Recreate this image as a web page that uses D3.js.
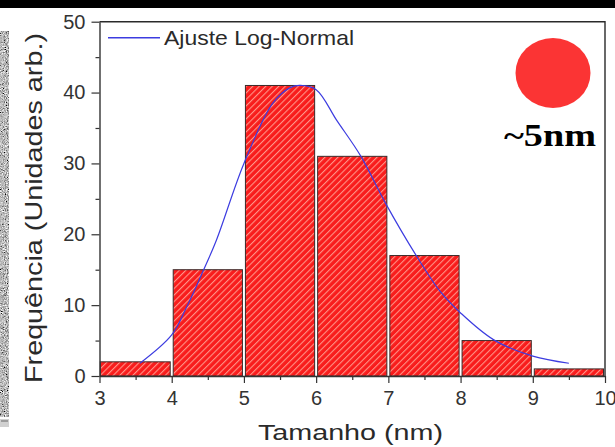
<!DOCTYPE html>
<html>
<head>
<meta charset="utf-8">
<script src="https://cdn.jsdelivr.net/npm/d3@7/dist/d3.min.js"></script>
<style>
  html, body { margin: 0; padding: 0; background: #fff; }
  svg { display: block; }
</style>
</head>
<body>
<svg id="chart" width="615" height="447"></svg>
<script>
// Histogram of particle sizes (nm) with a log-normal fit
const binStarts = [3, 4, 5, 6, 7, 8, 9];
const binWidth = 1;
const counts = [2, 15, 41, 31, 17, 5, 1];

// Log-normal fit curve, sampled points (size, frequency)
const fitX = [3.56, 4.0, 4.2, 4.43, 4.62, 5.0, 5.4, 5.64, 5.78, 6.0, 6.29, 6.62, 6.96, 7.38, 7.72, 8.0, 8.46, 9.0, 9.5];
const fitY = [1.8, 5.8, 9.6, 14.7, 19.2, 30.0, 38.5, 40.7, 41.0, 40.4, 36.0, 31.0, 24.4, 17.1, 11.9, 8.9, 5.1, 2.8, 1.8];

const xMajor = [3, 4, 5, 6, 7, 8, 9, 10];
const xMinor = [3.5, 4.5, 5.5, 6.5, 7.5, 8.5, 9.5];
const yMajor = [0, 10, 20, 30, 40, 50];
const yMinor = [5, 15, 25, 35, 45];

const svg = d3.select("#chart");
const plotLeft = 99.5, plotRight = 605, plotTop = 21.7, plotBottom = 376;

const x = d3.scaleLinear().domain([3, 10]).range([plotLeft, plotRight]);
const y = d3.scaleLinear().domain([0, 50]).range([plotBottom, plotTop]);

const defs = svg.append("defs");

// Diagonal hatch for the bars
const pat = defs.append("pattern")
  .attr("id", "hatch")
  .attr("patternUnits", "userSpaceOnUse")
  .attr("width", 4.6).attr("height", 4.6)
  .attr("patternTransform", "rotate(45)");
pat.append("rect").attr("width", 4.6).attr("height", 4.6).attr("fill", "#f81c1c");
pat.append("rect").attr("x", 0).attr("width", 1.1).attr("height", 4.6).attr("fill", "#ff9488");

// Grainy texture for the micrograph strip at the left edge
const grain = defs.append("filter").attr("id", "grain")
  .attr("x", 0).attr("y", 0).attr("width", 1).attr("height", 1);
grain.append("feTurbulence").attr("type", "fractalNoise")
  .attr("baseFrequency", 0.95).attr("numOctaves", 2).attr("seed", 3).attr("result", "n");
grain.append("feColorMatrix").attr("type", "matrix")
  .attr("values", "0.33 0.33 0.33 0 0  0.33 0.33 0.33 0 0  0.33 0.33 0.33 0 0  0 0 0 0 1")
  .attr("in", "n").attr("result", "g");
grain.append("feComponentTransfer").attr("in", "g")
  .call(s => {
    s.append("feFuncR").attr("type", "linear").attr("slope", 2.8).attr("intercept", -0.9);
    s.append("feFuncG").attr("type", "linear").attr("slope", 2.8).attr("intercept", -0.9);
    s.append("feFuncB").attr("type", "linear").attr("slope", 2.8).attr("intercept", -0.9);
  });

svg.append("rect").attr("width", 615).attr("height", 447).attr("fill", "#fff");

// Dark band across the top
svg.append("rect").attr("x", 0).attr("y", 0).attr("width", 615).attr("height", 8).attr("fill", "#000");

// Micrograph strip
svg.append("rect").attr("x", 0).attr("y", 31).attr("width", 9).attr("height", 386)
  .attr("fill", "#888").attr("filter", "url(#grain)");
svg.append("rect").attr("x", 0).attr("y", 419).attr("width", 9).attr("height", 8).attr("fill", "#d0d0d0");
svg.append("line").attr("x1", 1).attr("x2", 8).attr("y1", 421).attr("y2", 421).attr("stroke", "#666");

// Bars
svg.append("g").selectAll("rect")
  .data(binStarts.map((b, i) => ({ b, c: counts[i] })))
  .join("rect")
  .attr("x", d => x(d.b) + (d.b === 3 ? 0.8 : 1.5))
  .attr("width", d => x(d.b + binWidth) - x(d.b) - (d.b === 3 ? 2.3 : 3))
  .attr("y", d => y(d.c))
  .attr("height", d => y(0) - y(d.c))
  .attr("fill", "url(#hatch)")
  .attr("stroke", "#3a2b2b")
  .attr("stroke-width", 1);

// Fit curve
const line = d3.line()
  .x(d => x(d[0])).y(d => y(d[1]))
  .curve(d3.curveCatmullRom.alpha(0.5));
svg.append("path")
  .datum(fitX.map((v, i) => [v, fitY[i]]))
  .attr("d", line)
  .attr("fill", "none")
  .attr("stroke", "#3c3ce0")
  .attr("stroke-width", 1.2);

// Frame (top and right)
svg.append("path")
  .attr("d", `M${plotLeft},${plotTop}H${plotRight}V${plotBottom}`)
  .attr("fill", "none").attr("stroke", "#2a2a2a").attr("stroke-width", 1.4);

// Axes
const axisColor = "#333";
function styleAxis(g) {
  g.selectAll(".domain").attr("stroke", axisColor).attr("stroke-width", 1.4);
  g.selectAll(".tick line").attr("stroke", axisColor).attr("stroke-width", 1.2);
  g.selectAll(".tick text")
    .attr("fill", "#333")
    .style("font-family", "'Liberation Sans', Arial, sans-serif")
    .style("font-size", "20px");
}

svg.append("g").attr("transform", `translate(0,${plotBottom})`)
  .call(d3.axisBottom(x).tickValues(xMinor).tickSize(4).tickFormat("").tickSizeOuter(0))
  .call(g => g.select(".domain").remove())
  .call(styleAxis);
svg.append("g").attr("transform", `translate(0,${plotBottom})`)
  .call(d3.axisBottom(x).tickValues(xMajor).tickSize(7).tickPadding(8).tickSizeOuter(0).tickFormat(d3.format("d")))
  .call(styleAxis);

svg.append("g").attr("transform", `translate(${plotLeft},0)`)
  .call(d3.axisLeft(y).tickValues(yMinor).tickSize(4).tickFormat("").tickSizeOuter(0))
  .call(g => g.select(".domain").remove())
  .call(styleAxis);
svg.append("g").attr("transform", `translate(${plotLeft},0)`)
  .call(d3.axisLeft(y).tickValues(yMajor).tickSize(8).tickPadding(6).tickSizeOuter(0).tickFormat(d3.format("d")))
  .call(styleAxis);

// Axis titles
svg.append("text")
  .attr("transform", "translate(42,208) rotate(-90)")
  .attr("text-anchor", "middle")
  .attr("textLength", 350).attr("lengthAdjust", "spacingAndGlyphs")
  .attr("fill", "#2a2a2a")
  .style("font-family", "'Liberation Sans', Arial, sans-serif")
  .style("font-size", "24px")
  .text("Frequência (Unidades arb.)");

svg.append("text")
  .attr("x", 350.5).attr("y", 440)
  .attr("text-anchor", "middle")
  .attr("textLength", 185).attr("lengthAdjust", "spacingAndGlyphs")
  .attr("fill", "#2a2a2a")
  .style("font-family", "'Liberation Sans', Arial, sans-serif")
  .style("font-size", "22px")
  .text("Tamanho (nm)");

// Legend
svg.append("line")
  .attr("x1", 108).attr("x2", 160).attr("y1", 37.7).attr("y2", 37.7)
  .attr("stroke", "#3c3ce0").attr("stroke-width", 1.4);
svg.append("text")
  .attr("x", 164).attr("y", 45)
  .attr("textLength", 190).attr("lengthAdjust", "spacingAndGlyphs")
  .attr("fill", "#2a2a2a")
  .style("font-family", "'Liberation Sans', Arial, sans-serif")
  .style("font-size", "21px")
  .text("Ajuste Log-Normal");

// Particle sketch and size label
svg.append("ellipse")
  .attr("cx", 553).attr("cy", 73).attr("rx", 37.5).attr("ry", 35)
  .attr("fill", "#fb3434");
svg.append("text")
  .attr("x", 504).attr("y", 146)
  .attr("textLength", 92).attr("lengthAdjust", "spacingAndGlyphs")
  .attr("fill", "#000")
  .style("font-family", "'Liberation Serif', 'Times New Roman', serif")
  .style("font-weight", "bold")
  .style("font-size", "31px")
  .text("~5nm");
</script>
</body>
</html>
